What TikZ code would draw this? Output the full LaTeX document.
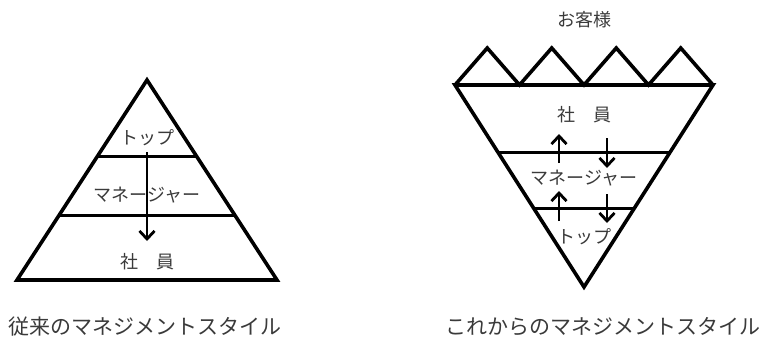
\documentclass[tikz,border=0pt]{standalone}
\usepackage{fontspec}
\setmainfont{Noto Sans CJK JP}
\usepackage{xcolor}
\usepackage{tikz}
\usetikzlibrary{arrows.meta,positioning,calc}
\definecolor{mgInk}{HTML}{000000}
\definecolor{mgText}{HTML}{3A3A3A}
\tikzset{
  tier/.style={draw=mgInk, line width=3.6pt, line join=miter},
  tierline/.style={draw=mgInk, line width=3pt},
  flowarr/.style={-{Straight Barb[length=8pt, width=15pt]}, line width=2.8pt, draw=mgInk},
  tierlabel/.style={font=\fontsize{18}{20}\selectfont, text=mgText, inner sep=0pt},
  mgcaption/.style={font=\fontsize{21}{24}\selectfont, text=mgText, inner sep=0pt, anchor=west},
}

\begin{document}
\begin{tikzpicture}[x=1pt, y=-1pt]
  \useasboundingbox (0,0) rectangle (765,342);
  % traditional pyramid
  \coordinate (lTop) at (147,80);
  \coordinate (lLeft) at (17,280);
  \coordinate (lRight) at (277,280);
  \draw[tier] (lTop) -- (lRight) -- (lLeft) -- cycle;
  \draw[tierline] ($(lTop)!0.385!(lLeft)$) -- ($(lTop)!0.385!(lRight)$);
  \draw[tierline] ($(lTop)!0.675!(lLeft)$) -- ($(lTop)!0.675!(lRight)$);
  \node[tierlabel] (lTopLbl) at (147,138) {トップ};
  \node[tierlabel] (lMgrLbl) at (147,195) {マネージャー};
  \node[tierlabel] (lStaffLbl) at (147,262) {社　員};
  \coordinate (lArrS) at (147,152);
  \coordinate (lArrE) at (147,241);
  \draw[flowarr] (lArrS) -- (lArrE);
  \node[mgcaption] (lCap) at (8,327) {従来のマネジメントスタイル};

  % inverted pyramid
  \coordinate (rLeft) at (455,85);
  \coordinate (rRight) at (713,85);
  \coordinate (rBot) at (584,287);
  \draw[tier] (rLeft) -- (rRight) -- (rBot) -- cycle;
  \draw[tier] (rLeft) -- ++(32.25,-37) -- ++(32.25,37) -- ++(32.25,-37) -- ++(32.25,37)
    -- ++(32.25,-37) -- ++(32.25,37) -- ++(32.25,-37) -- (rRight);
  \draw[tierline] ($(rLeft)!0.332!(rBot)$) -- ($(rRight)!0.332!(rBot)$);
  \draw[tierline] ($(rLeft)!0.609!(rBot)$) -- ($(rRight)!0.609!(rBot)$);
  \node[tierlabel] (rCustLbl) at (584,20) {お客様};
  \node[tierlabel] (rStaffLbl) at (584,115) {社　員};
  \node[tierlabel] (rMgrLbl) at (584,178) {マネージャー};
  \node[tierlabel] (rTopLbl) at (584,237) {トップ};
  \coordinate (up1S) at (559,163);
  \coordinate (up1E) at (559,134);
  \coordinate (dn1S) at (607,138);
  \coordinate (dn1E) at (607,168);
  \coordinate (up2S) at (559,221);
  \coordinate (up2E) at (559,191);
  \coordinate (dn2S) at (607,194);
  \coordinate (dn2E) at (607,223);
  \draw[flowarr] (up1S) -- (up1E);
  \draw[flowarr] (dn1S) -- (dn1E);
  \draw[flowarr] (up2S) -- (up2E);
  \draw[flowarr] (dn2S) -- (dn2E);
  \node[mgcaption] (rCap) at (445,327) {これからのマネジメントスタイル};
\end{tikzpicture}
\end{document}
